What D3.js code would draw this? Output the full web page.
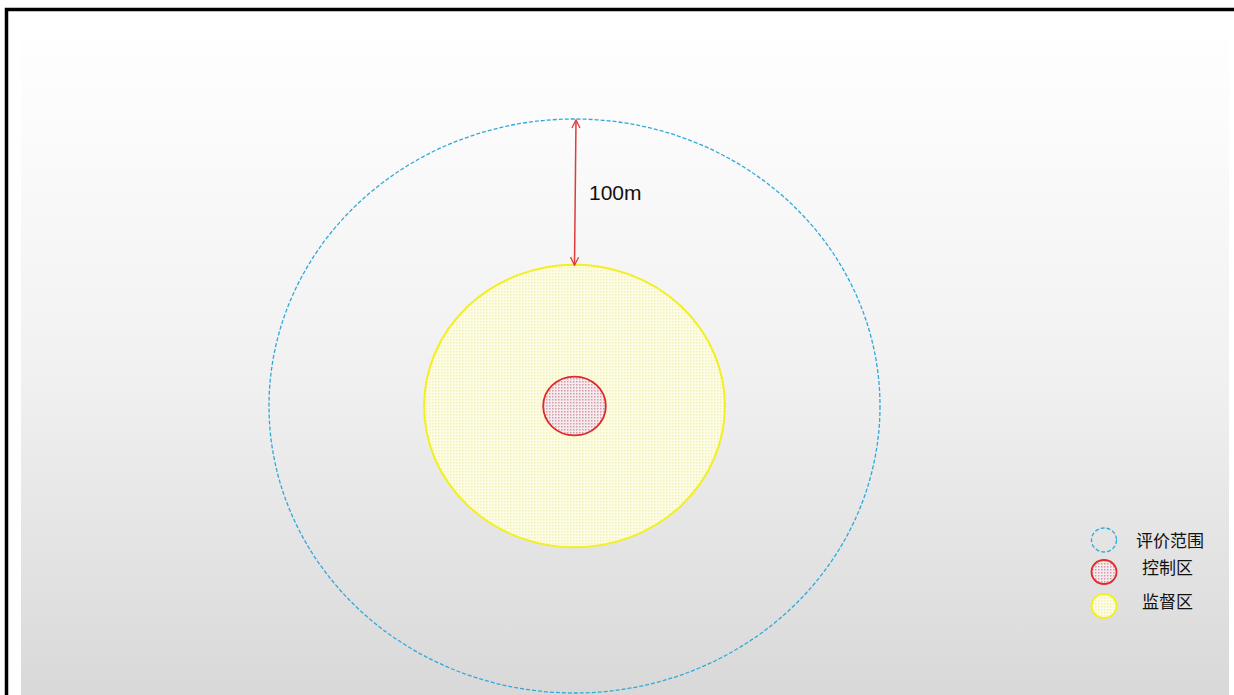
<!DOCTYPE html>
<html>
<head>
<meta charset="utf-8">
<script src="https://cdn.jsdelivr.net/npm/d3@7"></script>
<style>
  html, body { margin: 0; padding: 0; background: #fff; }
  svg { display: block; }
</style>
</head>
<body>
<div id="chart"></div>
<script>
// zones, radius in metres
const zoneNames = ['评价范围', '控制区', '监督区']
const zoneRadius = [195, 20, 96]
const gapLabel = '100m'
const gapMetres = 100

const width = 1234
const height = 695
const cx = 574.5
const cy = 406

const sx = d3.scaleLinear().domain([0, 195]).range([0, 305.5])
const sy = d3.scaleLinear().domain([0, 195]).range([0, 287])

const svg = d3.select('#chart').append('svg')
  .attr('width', width)
  .attr('height', height)
  .style('font-family', '"Liberation Sans", Arial, "Noto Sans CJK SC", sans-serif')

const defs = svg.append('defs')

const grad = defs.append('linearGradient')
  .attr('id', 'bg')
  .attr('x1', 0).attr('y1', 0).attr('x2', 0).attr('y2', 1)
grad.append('stop').attr('offset', '0%').attr('stop-color', '#fefefe')
grad.append('stop').attr('offset', '10%').attr('stop-color', '#fcfcfc')
grad.append('stop').attr('offset', '50%').attr('stop-color', '#f1f1f1')
grad.append('stop').attr('offset', '100%').attr('stop-color', '#d8d8d8')

// dotted fills
function dotPattern(id, bg, dot) {
  const p = defs.append('pattern')
    .attr('id', id)
    .attr('patternUnits', 'userSpaceOnUse')
    .attr('width', 3).attr('height', 3)
  p.append('rect').attr('width', 3).attr('height', 3).attr('fill', bg)
  p.append('rect').attr('width', 1.5).attr('height', 1.5).attr('fill', dot)
}
dotPattern('redDots', '#f4ecee', '#d49aa8')
dotPattern('yellowDots', '#fdfde6', '#f2f0b8')

defs.append('marker')
  .attr('id', 'arrow')
  .attr('viewBox', '0 0 10 10')
  .attr('refX', 9).attr('refY', 5)
  .attr('markerWidth', 10).attr('markerHeight', 10)
  .attr('markerUnits', 'userSpaceOnUse')
  .attr('orient', 'auto-start-reverse')
  .append('path')
    .attr('d', 'M1,1 L9,5 L1,9')
    .attr('fill', 'none')
    .attr('stroke', '#e03a3a')
    .attr('stroke-width', 1.3)

// background panel
svg.append('rect')
  .attr('x', 21).attr('y', 41)
  .attr('width', 1208).attr('height', 660)
  .attr('fill', 'url(#bg)')

// frame
svg.append('rect')
  .attr('x', 6.5).attr('y', 9.5)
  .attr('width', 1400).attr('height', 900)
  .attr('fill', 'none')
  .attr('stroke', '#000')
  .attr('stroke-width', 3.5)

const styles = [
  { fill: 'none', stroke: '#2fa9d9', width: 1.3, dash: '4,2' },
  { fill: 'url(#redDots)', stroke: '#e02a2a', width: 1.8, dash: null },
  { fill: 'url(#yellowDots)', stroke: '#f2ef22', width: 2, dash: null },
]

const zones = zoneNames.map((name, i) => ({ name, r: zoneRadius[i], style: styles[i] }))
const drawOrder = [0, 2, 1]

svg.append('g')
  .selectAll('ellipse')
  .data(drawOrder.map(i => zones[i]))
  .join('ellipse')
    .attr('cx', cx)
    .attr('cy', cy)
    .attr('rx', d => sx(d.r))
    .attr('ry', d => sy(d.r))
    .attr('fill', d => d.style.fill)
    .attr('stroke', d => d.style.stroke)
    .attr('stroke-width', d => d.style.width)
    .attr('stroke-dasharray', d => d.style.dash)

// 100m dimension arrow between supervision and evaluation ring
const outerR = zoneRadius[0]
const innerR = outerR - gapMetres
svg.append('line')
  .attr('x1', cx + 1.5).attr('y1', cy - sy(outerR) + 1)
  .attr('x2', cx).attr('y2', cy - sy(innerR) - 1)
  .attr('stroke', '#e03a3a')
  .attr('stroke-width', 1.5)
  .attr('marker-start', 'url(#arrow)')
  .attr('marker-end', 'url(#arrow)')

svg.append('text')
  .attr('x', 589)
  .attr('y', 200)
  .attr('font-size', 21)
  .attr('fill', '#111')
  .text(gapLabel)

// legend
const legendY = [540, 572, 606]
const legendTextX = [1136, 1142, 1142]
const legend = svg.append('g')
  .selectAll('g')
  .data(zones)
  .join('g')
    .attr('transform', (d, i) => `translate(1104,${legendY[i]})`)

legend.append('ellipse')
  .attr('rx', 12.5).attr('ry', 12)
  .attr('fill', d => d.style.fill)
  .attr('stroke', d => d.style.stroke)
  .attr('stroke-width', d => d.style.width)
  .attr('stroke-dasharray', d => d.style.dash)

legend.append('text')
  .attr('x', (d, i) => legendTextX[i] - 1104)
  .attr('y', (d, i) => i === 0 ? 1 : -4)
  .attr('dy', '0.35em')
  .attr('font-size', 17)
  .attr('font-family', '"Noto Sans CJK SC", sans-serif')
  .attr('fill', '#111')
  .text(d => d.name)
</script>
</body>
</html>
